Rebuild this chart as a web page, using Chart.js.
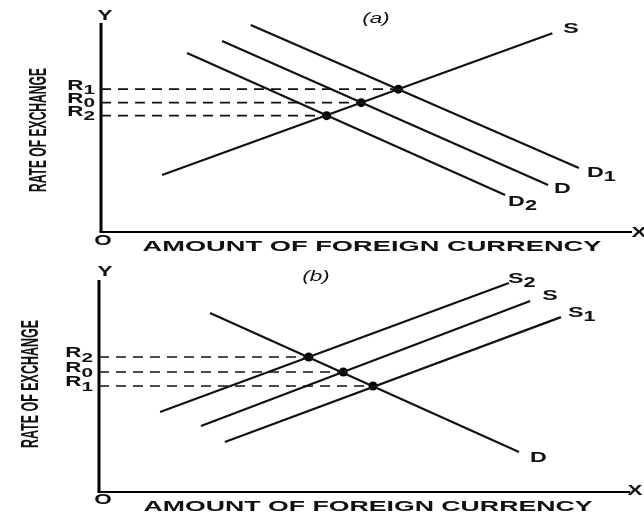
<!DOCTYPE html>
<html>
<head>
<meta charset="utf-8">
<script src="https://cdn.jsdelivr.net/npm/chart.js@4"></script>
<style>
  body { margin: 0; background: #fff; }
  canvas { position: absolute; left: 0; }
  #panelA { top: 0; }
  #panelB { top: 255px; }
</style>
</head>
<body>
<canvas id="panelA" width="644" height="255"></canvas>
<canvas id="panelB" width="644" height="260"></canvas>
<script>
// (a) demand shifts, one supply curve
const supplyA = [{x: 1.15, y: 2.75}, {x: 8.5, y: 9.6}];
const demandA = [{x: 2.28, y: 9.23}, {x: 8.42, y: 2.27}];
const demandA1 = [{x: 2.82, y: 10}, {x: 9.0, y: 3.09}];
const demandA2 = [{x: 1.62, y: 8.65}, {x: 7.61, y: 1.79}];
const curveNamesA = ['S', 'D', 'D1', 'D2'];
const ratesA = [6.9, 6.25, 5.62];
const rateLabelsA = ['R1', 'R0', 'R2'];
const equilQtyA = [5.6, 4.9, 4.25];

// (b) supply shifts, one demand curve
const demandB = [{x: 2.09, y: 8.44}, {x: 7.91, y: 1.89}];
const supplyB = [{x: 1.92, y: 3.11}, {x: 8.12, y: 9.01}];
const supplyB1 = [{x: 2.37, y: 2.36}, {x: 8.7, y: 8.25}];
const supplyB2 = [{x: 1.15, y: 3.77}, {x: 7.72, y: 9.86}];
const curveNamesB = ['D', 'S', 'S1', 'S2'];
const ratesB = [6.37, 5.66, 5.0];
const rateLabelsB = ['R2', 'R0', 'R1'];
const equilQtyB = [3.95, 4.6, 5.16];

const xTitle = 'AMOUNT OF FOREIGN CURRENCY';
const yTitle = 'RATE OF EXCHANGE';

const FONT = '"Liberation Sans", Arial, sans-serif';
const INK = '#111';

// letter with a lowered subscript digit, stretched sideways like the scan
function label(ctx, text, x, y, size, align, sx) {
  const main = text.replace(/\d+$/, '');
  const sub = text.slice(main.length);
  const subSize = size - 1;
  ctx.save();
  ctx.translate(x, y);
  ctx.scale(sx, 1);
  ctx.font = 'bold ' + size + 'px ' + FONT;
  const w1 = ctx.measureText(main).width;
  ctx.font = 'bold ' + subSize + 'px ' + FONT;
  const w2 = sub ? ctx.measureText(sub).width : 0;
  const tw = w1 + w2;
  const x0 = align === 'right' ? -tw : align === 'center' ? -tw / 2 : 0;
  ctx.fillStyle = INK;
  ctx.textBaseline = 'middle';
  ctx.textAlign = 'left';
  ctx.font = 'bold ' + size + 'px ' + FONT;
  ctx.fillText(main, x0, 0);
  if (sub) {
    ctx.font = 'bold ' + subSize + 'px ' + FONT;
    ctx.fillText(sub, x0 + w1, 4.5);
  }
  ctx.restore();
}

// text squeezed/stretched to a given length, optionally rotated
function fitText(ctx, text, cx, cy, size, len, thick, vertical, style) {
  ctx.save();
  ctx.translate(cx, cy);
  if (vertical) ctx.rotate(-Math.PI / 2);
  ctx.font = (style || 'bold') + ' ' + size + 'px ' + FONT;
  const w = ctx.measureText(text).width;
  ctx.scale(len ? len / w : thick, vertical ? thick : 1);
  ctx.fillStyle = INK;
  ctx.textAlign = 'center';
  ctx.textBaseline = 'middle';
  ctx.fillText(text, 0, 0);
  ctx.restore();
}

const decor = {
  id: 'decor',
  beforeDatasetsDraw(chart, args, o) {
    const ctx = chart.ctx, xs = chart.scales.x, ys = chart.scales.y;
    const ox = xs.getPixelForValue(0), oy = ys.getPixelForValue(0);
    ctx.save();
    ctx.strokeStyle = '#000';
    ctx.lineWidth = 3;
    ctx.beginPath();
    ctx.moveTo(ox, ys.getPixelForValue(10) - o.yTop);
    ctx.lineTo(ox, oy);
    ctx.stroke();
    ctx.lineWidth = 2;
    ctx.beginPath();
    ctx.moveTo(ox - 1.5, oy);
    ctx.lineTo(xs.getPixelForValue(10), oy);
    ctx.stroke();
    ctx.restore();
  },
  afterDatasetsDraw(chart, args, o) {
    const ctx = chart.ctx, xs = chart.scales.x, ys = chart.scales.y;
    const ox = xs.getPixelForValue(0);
    o.rates.forEach((r, i) => {
      label(ctx, o.rateLabels[i], ox - 6, ys.getPixelForValue(r) - 3.5, 14, 'right', 1.6);
    });
    chart.data.datasets.forEach(ds => {
      if (!ds.name) return;
      const end = ds.data[ds.data.length - 1];
      const off = o.offsets[ds.name];
      label(ctx, ds.name, xs.getPixelForValue(end.x) + off[0],
        ys.getPixelForValue(end.y) + off[1], 15, 'left', 1.55);
    });
    fitText(ctx, 'Y', o.yPos[0], o.yPos[1], 15, 0, 1.5);
    fitText(ctx, 'X', o.xPos[0], o.xPos[1], 15, 0, 1.5);
    fitText(ctx, 'O', o.oPos[0], o.oPos[1], 15, 0, 1.5);
    fitText(ctx, o.tag, o.tagPos[0], o.tagPos[1], 14, 0, 1.6, false, 'italic');
    fitText(ctx, xTitle, o.xTitle[0], o.xTitle[1], 14, o.xTitle[2], 1);
    fitText(ctx, yTitle, o.yTitle[0], o.yTitle[1], 12.5, o.yTitle[2], 1.95, true);
  }
};

function curve(name, data) {
  return { name, data, showLine: true, borderColor: INK, borderWidth: 2.2,
    pointRadius: 0, clip: false };
}
function dashed(rate, qty) {
  return { data: [{x: 0, y: rate}, {x: qty, y: rate}], showLine: true,
    borderColor: INK, borderWidth: 1.6, borderDash: [10, 7], pointRadius: 0, clip: false };
}
function dots(rates, qtys) {
  return { data: rates.map((r, i) => ({x: qtys[i], y: r})), showLine: false,
    pointRadius: 4.5, pointBackgroundColor: '#000', pointBorderWidth: 0, clip: false };
}

function makePanel(id, curves, names, rates, qtys, pad, opts) {
  const datasets = curves.map((c, i) => curve(names[i], c));
  rates.forEach((r, i) => datasets.push(dashed(r, qtys[i])));
  datasets.push(dots(rates, qtys));
  new Chart(document.getElementById(id).getContext('2d'), {
    type: 'scatter',
    data: { datasets },
    options: {
      responsive: false,
      animation: false,
      events: [],
      layout: { padding: pad },
      scales: {
        x: { type: 'linear', min: 0, max: 10, display: false },
        y: { type: 'linear', min: 0, max: 10, display: false }
      },
      plugins: { legend: { display: false }, tooltip: { enabled: false }, decor: opts }
    },
    plugins: [decor]
  });
}

makePanel('panelA', [supplyA, demandA, demandA1, demandA2], curveNamesA, ratesA, equilQtyA,
  { left: 101, right: 12, top: 25, bottom: 23 },
  {
    rates: ratesA, rateLabels: rateLabelsA, yTop: 2,
    offsets: { S: [11, -4], D: [6, 4], D1: [8, 5], D2: [3, 7] },
    yPos: [105, 16], xPos: [639, 233], oPos: [103, 241], tag: '(a)', tagPos: [376, 19],
    xTitle: [372, 247, 459], yTitle: [39, 130, 124]
  });

makePanel('panelB', [demandB, supplyB, supplyB1, supplyB2], curveNamesB, ratesB, equilQtyB,
  { left: 99, right: 14, top: 25, bottom: 23 },
  {
    rates: ratesB, rateLabels: rateLabelsB, yTop: 0,
    offsets: { D: [11, 6], S: [12, -5], S1: [7, -4], S2: [-1, -4] },
    yPos: [105, 17], xPos: [635, 236], oPos: [103, 245], tag: '(b)', tagPos: [316, 22],
    xTitle: [368, 252, 449], yTitle: [31, 129, 128]
  });
</script>
</body>
</html>
